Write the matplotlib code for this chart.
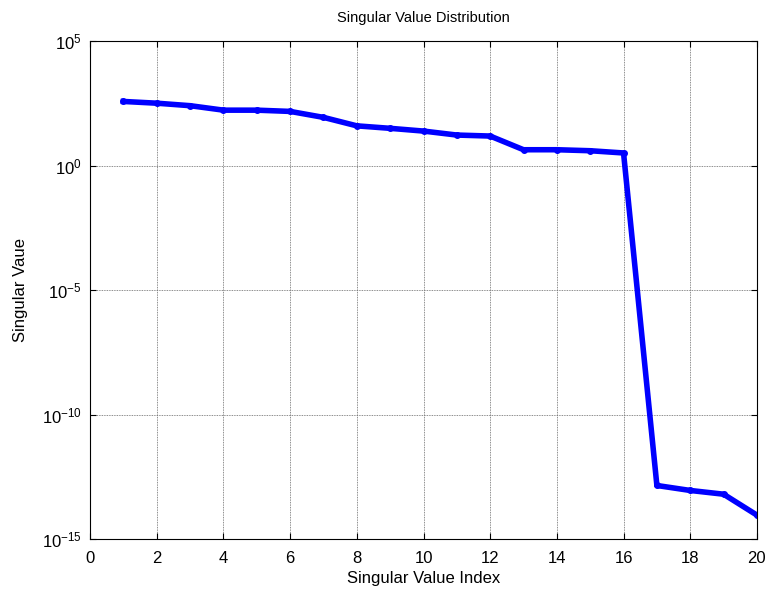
import matplotlib.pyplot as plt
from matplotlib.ticker import FixedLocator, NullLocator

plt.rcParams['font.family'] = ['Liberation Sans', 'DejaVu Sans']
plt.rcParams['mathtext.fontset'] = 'custom'
plt.rcParams['mathtext.rm'] = 'Liberation Sans'

# singular values (log10)
idx = list(range(1, 21))
log_sv = [2.58, 2.51, 2.41, 2.23, 2.23, 2.18, 1.94, 1.60, 1.50, 1.39,
          1.23, 1.19, 0.64, 0.64, 0.60, 0.51, -12.85, -13.05, -13.2, -14.04]
sv = [10 ** v for v in log_sv]

xticks = list(range(0, 21, 2))
yticks = [1e-15, 1e-10, 1e-5, 1e0, 1e5]
ytick_labels = [r'$\mathregular{10^{-15}}$', r'$\mathregular{10^{-10}}$',
                r'$\mathregular{10^{-5}}$', r'$\mathregular{10^{0}}$',
                r'$\mathregular{10^{5}}$']

fig = plt.figure(figsize=(7.7, 5.94), dpi=100)
ax = fig.add_axes([0.117, 0.0926, 0.866, 0.838])

ax.semilogy(idx, sv, color='blue', linewidth=4, marker='.', markersize=8)

ax.set_xlim(0, 20)
ax.set_ylim(1e-15, 1e5)
ax.xaxis.set_major_locator(FixedLocator(xticks))
ax.yaxis.set_major_locator(FixedLocator(yticks))
ax.yaxis.set_minor_locator(NullLocator())
ax.set_yticklabels(ytick_labels)
ax.tick_params(direction='in', labelsize=12, top=True, right=True, length=4)
ax.tick_params(axis='x', pad=9)
ax.tick_params(axis='y', pad=6)
ax.grid(True, color='#666666', linestyle=(0, (1, 1)), linewidth=0.6)

ax.set_title('Singular Value Distribution', fontsize=10.5, pad=14)
ax.set_xlabel('Singular Value Index', fontsize=12, labelpad=3)
ax.set_ylabel('Singular Vaue', fontsize=12)
ax.yaxis.set_label_coords(-0.093, 0.5)

fig.savefig('out.png', dpi=100)
